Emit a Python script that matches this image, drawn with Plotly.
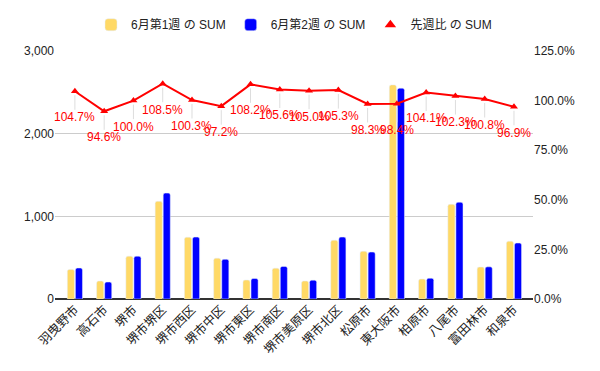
import plotly.graph_objects as go

categories = ["羽曳野市", "高石市", "堺市", "堺市堺区", "堺市西区", "堺市中区", "堺市東区", "堺市南区",
              "堺市美原区", "堺市北区", "松原市", "東大阪市", "柏原市", "八尾市", "富田林市", "和泉市"]
week1 = [358, 217, 518, 1181, 747, 494, 229, 373, 217, 711, 578, 2590, 241, 1145, 386, 699]
week2 = [375, 205, 518, 1281, 749, 480, 248, 394, 228, 749, 568, 2550, 251, 1171, 389, 677]
ratio = [1.047, 0.946, 1.000, 1.085, 1.003, 0.972, 1.082, 1.056, 1.050, 1.053, 0.983, 0.984, 1.041, 1.023, 1.008, 0.969]
left_ticks = [0, 1000, 2000, 3000]
right_ticks = [0, 0.25, 0.5, 0.75, 1.0, 1.25]

FONT = "Liberation Sans, Arial, Noto Sans CJK JP, sans-serif"
YELLOW = "#ffd966"
BLUE = "#0000ff"
RED = "#ff0000"

fig = go.Figure()
fig.add_trace(go.Bar(x=categories, y=week1, name="6月第1週 の SUM", marker_color=YELLOW, yaxis="y"))
fig.add_trace(go.Bar(x=categories, y=week2, name="6月第2週 の SUM", marker_color=BLUE, yaxis="y"))
fig.add_trace(go.Scatter(x=categories, y=ratio, name="先週比 の SUM", mode="lines+markers", yaxis="y2",
                         line=dict(color=RED, width=2),
                         marker=dict(symbol="triangle-up", size=7, color=RED),
                         showlegend=False, hoverinfo="skip"))
# legend-only entry (triangle only)
fig.add_trace(go.Scatter(x=[None], y=[None], name="先週比 の SUM", mode="markers", yaxis="y2",
                         marker=dict(symbol="triangle-up", size=10, color=RED)))

annotations = []
for c, r in zip(categories, ratio):
    annotations.append(dict(
        x=c, y=r, xref="x", yref="y2", text=f"{r*100:.1f}%",
        showarrow=True, arrowhead=0, arrowwidth=1, arrowcolor="#dddddd",
        ax=0, ay=26, standoff=4, borderpad=0,
        font=dict(family=FONT, size=12, color=RED)))

fig.update_layout(
    width=600, height=371,
    margin=dict(l=55, r=67, t=51, b=72, autoexpand=False),
    paper_bgcolor="white", plot_bgcolor="white",
    font=dict(family=FONT, size=12, color="#222222"),
    barmode="group", bargap=0.45, bargroupgap=0.12, barcornerradius=2,
    legend=dict(orientation="h", x=0.5, xanchor="center", y=1.106, yanchor="middle",
                font=dict(size=12, color="#222222"), itemwidth=30, traceorder="normal"),
    xaxis=dict(range=[-0.68, 15.65], tickangle=-45, showgrid=False, ticks="", automargin=False,
               tickfont=dict(size=12.5, color="#222222")),
    yaxis=dict(range=[0, 3000], tickvals=left_ticks, tickformat=",d", showgrid=True, automargin=False,
               gridcolor="#cccccc", gridwidth=1, zeroline=True, zerolinecolor="#333333",
               zerolinewidth=1.5, ticks="", tickfont=dict(size=12, color="#222222")),
    yaxis2=dict(range=[0, 1.25], tickvals=right_ticks, tickformat=".1%", overlaying="y",
                side="right", showgrid=False, zeroline=False, ticks="", automargin=False,
                tickfont=dict(size=12, color="#222222")),
    annotations=annotations,
)

fig.write_html("out.html", config={"displayModeBar": False},
               post_script="document.body.style.margin='0';document.body.style.overflow='hidden';")
